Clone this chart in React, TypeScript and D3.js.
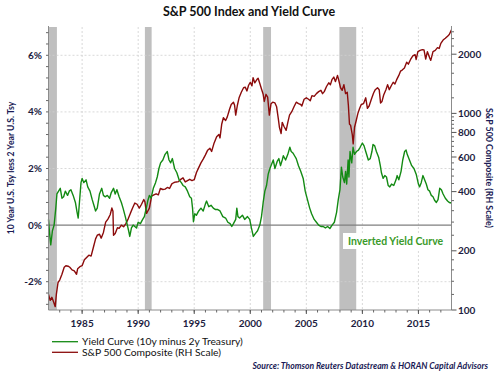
import React from "react";
import * as d3 from "d3";

// Yield curve (10y minus 2y), decimal year -> %
const curveYears = [
  1982.0, 1982.1, 1982.2, 1982.35, 1982.5, 1982.65, 1982.75, 1982.9, 1983.05, 1983.2, 1983.35, 1983.5, 1983.7, 1983.85,
  1984.0, 1984.2, 1984.4, 1984.55, 1984.65, 1984.8, 1984.9, 1985.0, 1985.15, 1985.35, 1985.5, 1985.7, 1985.9, 1986.05,
  1986.2, 1986.35, 1986.55, 1986.75, 1986.9, 1987.05, 1987.25, 1987.45, 1987.6, 1987.8, 1987.95, 1988.1, 1988.3, 1988.5,
  1988.65, 1988.85, 1989.0, 1989.15, 1989.25, 1989.4, 1989.55, 1989.7, 1989.85, 1990.0, 1990.2, 1990.4, 1990.55, 1990.7,
  1990.85, 1991.0, 1991.15, 1991.35, 1991.55, 1991.7, 1991.85, 1992.0, 1992.2, 1992.4, 1992.6, 1992.75, 1992.9, 1993.05,
  1993.25, 1993.45, 1993.65, 1993.85, 1994.0, 1994.2, 1994.4, 1994.6, 1994.75, 1994.85, 1994.93, 1995.05, 1995.2, 1995.4,
  1995.6, 1995.8, 1996.0, 1996.1, 1996.3, 1996.5, 1996.7, 1996.9, 1997.1, 1997.3, 1997.55, 1997.8, 1998.0, 1998.2,
  1998.35, 1998.5, 1998.7, 1998.8, 1998.9, 1999.05, 1999.3, 1999.5, 1999.75, 1999.95, 2000.1, 2000.27, 2000.45, 2000.65,
  2000.85, 2001.0, 2001.15, 2001.3, 2001.45, 2001.6, 2001.75, 2001.9, 2002.05, 2002.2, 2002.4, 2002.55, 2002.7, 2002.85,
  2002.95, 2003.15, 2003.35, 2003.53, 2003.65, 2003.8, 2003.95, 2004.1, 2004.3, 2004.5, 2004.72, 2004.9, 2005.1, 2005.3,
  2005.47, 2005.7, 2005.9, 2006.1, 2006.3, 2006.5, 2006.7, 2006.9, 2007.1, 2007.3, 2007.5, 2007.7, 2007.85, 2008.0,
  2008.13, 2008.25, 2008.4, 2008.5, 2008.6, 2008.73, 2008.8, 2008.9, 2009.05, 2009.17, 2009.3, 2009.47, 2009.65, 2009.8,
  2010.0, 2010.15, 2010.3, 2010.53, 2010.7, 2010.85, 2010.95, 2011.1, 2011.25, 2011.45, 2011.6, 2011.7, 2011.85, 2012.0,
  2012.15, 2012.3, 2012.45, 2012.6, 2012.8, 2013.0, 2013.1, 2013.25, 2013.45, 2013.6, 2013.77, 2013.9, 2014.0, 2014.2,
  2014.4, 2014.6, 2014.8, 2015.0, 2015.1, 2015.25, 2015.4, 2015.55, 2015.7, 2015.85, 2016.0, 2016.15, 2016.3, 2016.44,
  2016.6, 2016.75, 2016.9, 2017.05, 2017.2, 2017.4, 2017.6, 2017.75, 2017.95,
];
const curveValues = [
  0.2, -0.3, -0.7, -0.2, 0.0, 0.6, 1.1, 1.2, 1.3, 0.95, 1.0, 1.2, 1.05, 1.2,
  1.25, 1.05, 0.8, 0.45, 0.25, 1.0, 1.5, 1.65, 1.5, 1.6, 1.35, 1.2, 0.9, 0.7,
  0.5, 0.6, 1.1, 1.3, 1.05, 1.0, 1.05, 0.95, 1.15, 1.3, 1.1, 1.25, 1.0, 0.8,
  0.6, 0.3, 0.05, -0.2, -0.4, -0.1, 0.0, -0.05, -0.1, 0.1, 0.05, 0.2, 0.3, 0.55,
  0.85, 1.05, 0.95, 1.3, 1.5, 1.7, 2.0, 2.2, 2.3, 2.5, 2.6, 2.3, 2.2, 2.35,
  2.0, 1.85, 1.6, 1.5, 1.4, 1.35, 1.2, 1.0, 0.95, 0.6, 0.12, 0.4, 0.35, 0.5,
  0.6, 0.5, 0.75, 0.85, 0.65, 0.7, 0.6, 0.55, 0.55, 0.5, 0.3, 0.25, 0.1, 0.05,
  -0.05, 0.05, 0.2, 0.6, 0.3, 0.25, 0.35, 0.2, 0.3, 0.2, -0.1, -0.4, -0.3, -0.2,
  0.0, 0.3, 0.8, 1.2, 1.4, 1.8, 2.0, 2.15, 2.3, 2.0, 2.25, 2.35, 2.1, 2.3,
  2.45, 2.3, 2.5, 2.75, 2.6, 2.55, 2.45, 2.35, 2.1, 1.9, 1.65, 1.2, 0.9, 0.6,
  0.4, 0.2, 0.1, 0.0, -0.05, -0.05, -0.1, -0.05, -0.12, 0.0, 0.1, 0.45, 0.9, 1.25,
  2.05, 1.7, 1.5, 1.9, 1.45, 2.3, 1.7, 2.6, 2.2, 2.75, 2.5, 2.6, 2.65, 2.75,
  2.9, 2.8, 2.6, 2.3, 2.35, 2.6, 2.85, 2.8, 2.6, 2.4, 2.1, 1.85, 1.65, 1.75,
  1.7, 1.4, 1.35, 1.45, 1.4, 1.6, 1.75, 1.6, 1.9, 2.3, 2.6, 2.65, 2.5, 2.3,
  2.1, 2.0, 1.8, 1.45, 1.35, 1.5, 1.75, 1.6, 1.45, 1.25, 1.2, 1.05, 1.0, 0.88,
  0.8, 0.9, 1.3, 1.25, 1.1, 0.95, 0.85, 0.8, 0.78,
];

// S&P 500 Composite, decimal year -> index level
const spxYears = [
  1982.0, 1982.15, 1982.3, 1982.45, 1982.6, 1982.7, 1982.85, 1983.0, 1983.2, 1983.4, 1983.55, 1983.75, 1983.9, 1984.1,
  1984.3, 1984.5, 1984.6, 1984.8, 1985.0, 1985.2, 1985.4, 1985.6, 1985.8, 1986.0, 1986.2, 1986.35, 1986.55, 1986.7,
  1986.9, 1987.1, 1987.3, 1987.5, 1987.65, 1987.75, 1987.8, 1987.95, 1988.15, 1988.3, 1988.5, 1988.7, 1988.9, 1989.1,
  1989.3, 1989.5, 1989.7, 1989.9, 1990.1, 1990.3, 1990.5, 1990.6, 1990.75, 1990.85, 1991.0, 1991.2, 1991.4, 1991.6,
  1991.8, 1991.98, 1992.2, 1992.4, 1992.6, 1992.8, 1993.0, 1993.2, 1993.4, 1993.6, 1993.8, 1994.0, 1994.2, 1994.4,
  1994.6, 1994.8, 1995.0, 1995.2, 1995.4, 1995.6, 1995.8, 1996.0, 1996.2, 1996.4, 1996.55, 1996.75, 1997.0, 1997.2,
  1997.3, 1997.45, 1997.6, 1997.8, 1997.95, 1998.15, 1998.3, 1998.5, 1998.6, 1998.7, 1998.85, 1999.0, 1999.2, 1999.4,
  1999.55, 1999.7, 1999.85, 2000.0, 2000.15, 2000.25, 2000.4, 2000.6, 2000.7, 2000.85, 2001.0, 2001.15, 2001.25, 2001.4,
  2001.55, 2001.7, 2001.85, 2002.0, 2002.2, 2002.35, 2002.5, 2002.6, 2002.75, 2002.85, 2003.0, 2003.2, 2003.35, 2003.5,
  2003.7, 2003.9, 2004.1, 2004.3, 2004.5, 2004.6, 2004.8, 2005.0, 2005.2, 2005.35, 2005.5, 2005.7, 2005.9, 2006.1,
  2006.3, 2006.45, 2006.6, 2006.8, 2007.0, 2007.15, 2007.3, 2007.45, 2007.6, 2007.78, 2007.9, 2008.05, 2008.2, 2008.35,
  2008.5, 2008.65, 2008.75, 2008.85, 2008.95, 2009.1, 2009.18, 2009.3, 2009.45, 2009.6, 2009.75, 2009.9, 2010.1, 2010.3,
  2010.45, 2010.6, 2010.8, 2011.0, 2011.15, 2011.35, 2011.5, 2011.62, 2011.75, 2011.9, 2012.1, 2012.25, 2012.4, 2012.6,
  2012.75, 2012.9, 2013.05, 2013.25, 2013.4, 2013.55, 2013.75, 2013.95, 2014.1, 2014.3, 2014.5, 2014.7, 2014.8, 2014.95,
  2015.15, 2015.35, 2015.5, 2015.65, 2015.8, 2016.0, 2016.1, 2016.3, 2016.5, 2016.7, 2016.85, 2017.0, 2017.2, 2017.4,
  2017.6, 2017.75, 2017.95,
];
const spxValues = [
  120, 112, 116, 110, 104, 120, 138, 142, 152, 165, 168, 167, 165, 160,
  158, 152, 162, 166, 168, 180, 185, 190, 188, 208, 230, 240, 243, 232,
  248, 280, 290, 305, 330, 318, 240, 245, 262, 260, 270, 265, 275, 290,
  310, 330, 350, 345, 330, 345, 365, 355, 310, 318, 330, 380, 385, 390,
  385, 415, 410, 412, 420, 415, 438, 445, 448, 450, 462, 470, 448, 455,
  462, 455, 460, 500, 530, 560, 585, 615, 650, 665, 640, 700, 760, 780,
  750, 880, 950, 920, 960, 1050, 1110, 1140, 1100, 980, 1100, 1200, 1280, 1350,
  1360, 1300, 1390, 1440, 1380, 1520, 1430, 1490, 1510, 1420, 1330, 1250, 1150, 1250,
  1210, 980, 1120, 1140, 1130, 1080, 940, 850, 790, 900, 860, 820, 900, 980,
  1020, 1080, 1140, 1120, 1110, 1090, 1180, 1200, 1180, 1160, 1230, 1220, 1260, 1290,
  1310, 1260, 1290, 1370, 1430, 1400, 1490, 1530, 1450, 1560, 1470, 1350, 1310, 1400,
  1260, 1280, 1100, 880, 870, 780, 700, 850, 920, 1000, 1060, 1110, 1120, 1200,
  1060, 1090, 1180, 1270, 1320, 1350, 1320, 1130, 1150, 1240, 1320, 1400, 1320, 1390,
  1440, 1410, 1480, 1560, 1640, 1660, 1700, 1820, 1780, 1880, 1960, 1990, 1880, 2060,
  2090, 2110, 2100, 1890, 2060, 1920, 1860, 2060, 2090, 2160, 2140, 2270, 2360, 2410,
  2470, 2520, 2660,
];

// Recession bands [start, end]
const recessionStarts = [1982.0, 1990.6, 2001.15, 2007.95];
const recessionEnds = [1982.75, 1991.2, 2001.85, 2009.45];

const yearTicks = [1985, 1990, 1995, 2000, 2005, 2010, 2015];
const leftTicks = [-2, 0, 2, 4, 6];
const rightTicks = [100, 200, 400, 600, 800, 1000, 2000];

const W = 499;
const H = 374;
const left = 48.5;
const right = 451.5;
const top = 27;
const bottom = 310;

const navy = "#1d1d3f";
const green = "#138a13";
const red = "#8b0b0b";
const font = "Lato, 'Open Sans', sans-serif";

export default function App() {
  const x = d3.scaleLinear().domain([1982.0, 2017.95]).range([left, right]);
  const yL = d3.scaleLinear().domain([-3, 7]).range([bottom, top]);
  const yR = d3.scaleLog().domain([100, 2750]).range([bottom, top]);

  const curve = curveYears.map((t, i) => [t, curveValues[i]] as [number, number]);
  const spx = spxYears.map((t, i) => [t, spxValues[i]] as [number, number]);

  const curveLine = d3
    .line<[number, number]>()
    .x((d) => x(d[0]))
    .y((d) => yL(d[1]));
  const spxLine = d3
    .line<[number, number]>()
    .x((d) => x(d[0]))
    .y((d) => yR(d[1]));

  const minorYears = d3.range(1983, 2018);
  const leftMinor = d3.range(-2.8, 7, 0.4);
  const rightMinor: number[] = [];
  const rMajors = [...rightTicks, 3000];
  for (let i = 0; i < rMajors.length - 1; i++) {
    const a = rMajors[i];
    const b = rMajors[i + 1];
    for (let k = 1; k < 5; k++) {
      const v = a + ((b - a) * k) / 5;
      if (v <= 2750) rightMinor.push(v);
    }
  }

  return (
    <svg
      width={W}
      height={H}
      style={{ position: "absolute", left: 0, top: 0, background: "#fff" }}
      fontFamily={font}
    >
      <text x={249} y={15.5} textAnchor="middle" fontSize={12.5} fontWeight="bold" fill="#111">
        S&amp;P 500 Index and Yield Curve
      </text>

      {/* recession shading */}
      {recessionStarts.map((s, i) => (
        <rect
          key={"r" + i}
          x={x(s)}
          y={top}
          width={x(recessionEnds[i]) - x(s)}
          height={bottom - top}
          fill="#bfbfbf"
        />
      ))}

      {/* gridlines */}
      {leftTicks
        .filter((v) => v !== 0)
        .map((v) => (
          <line key={"gh" + v} x1={left} x2={right} y1={yL(v)} y2={yL(v)} stroke="#cfcfcf" strokeWidth={0.8} strokeDasharray="2,2" />
        ))}
      {yearTicks.map((t) => (
        <line key={"gv" + t} x1={x(t)} x2={x(t)} y1={top} y2={bottom} stroke="#cfcfcf" strokeWidth={0.8} strokeDasharray="2,2" />
      ))}

      {/* zero line */}
      <line x1={left} x2={right} y1={yL(0)} y2={yL(0)} stroke="#7f7f7f" strokeWidth={1.2} />

      {/* series */}
      <path d={spxLine(spx) || ""} fill="none" stroke={red} strokeWidth={1.4} strokeLinejoin="round" />
      <path d={curveLine(curve) || ""} fill="none" stroke={green} strokeWidth={1.4} strokeLinejoin="round" />

      {/* axes lines */}
      <line x1={left} x2={left} y1={top - 1} y2={bottom} stroke="#8c8c8c" />
      <line x1={right} x2={right} y1={top - 1} y2={bottom} stroke="#8c8c8c" />
      <line x1={left} x2={right} y1={bottom} y2={bottom} stroke="#8c8c8c" />

      {/* left ticks */}
      {leftMinor.map((v) => (
        <line key={"lm" + v} x1={left - 2.5} x2={left} y1={yL(v)} y2={yL(v)} stroke="#666" />
      ))}
      {leftTicks.map((v) => (
        <text key={"lt" + v} x={42} y={yL(v)} dy="0.35em" textAnchor="end" fontSize={10} fontWeight="bold" fill={navy}>
          {v + "%"}
        </text>
      ))}

      {/* right ticks */}
      {rightMinor.map((v) => (
        <line key={"rm" + v} x1={right} x2={right + 2.5} y1={yR(v)} y2={yR(v)} stroke="#666" />
      ))}
      {rightTicks.map((v) => (
        <g key={"rt" + v}>
          <line x1={right} x2={right + 5} y1={yR(v)} y2={yR(v)} stroke="#555" />
          <text x={458} y={yR(v)} dy="0.35em" fontSize={10} fontWeight="bold" fill={navy}>
            {v}
          </text>
        </g>
      ))}

      {/* bottom ticks */}
      {minorYears.map((t) => (
        <line key={"bm" + t} x1={x(t)} x2={x(t)} y1={bottom} y2={bottom + 2.5} stroke="#666" />
      ))}
      {yearTicks.map((t) => (
        <g key={"bt" + t}>
          <line x1={x(t)} x2={x(t)} y1={bottom} y2={bottom + 4} stroke="#555" />
          <text x={x(t)} y={326.5} textAnchor="middle" fontSize={10} fontWeight="bold" fill={navy}>
            {t}
          </text>
        </g>
      ))}

      {/* axis titles */}
      <text
        transform={`translate(14, 168) rotate(-90)`}
        textAnchor="middle"
        fontSize={8.6}
        fontWeight="bold"
        fill="#1a1a55"
      >
        10 Year U.S. Tsy less 2 Year U.S. Tsy
      </text>
      <text
        transform={`translate(486, 168) rotate(90)`}
        textAnchor="middle"
        fontSize={8.8}
        fontWeight="bold"
        fill="#1a1a55"
      >
        S&amp;P 500 Composite (RH Scale)
      </text>

      {/* annotation */}
      <rect x={343} y={233} width={102} height={16} fill="#fff" />
      <text x={348} y={245} fontSize={10.5} fontWeight="bold" fill="#3a9a2a">
        Inverted Yield Curve
      </text>

      {/* legend */}
      <line x1={52} x2={78} y1={341.7} y2={341.7} stroke={green} strokeWidth={1.3} />
      <text x={82} y={341.7} dy="0.35em" fontSize={10.3} fill="#111">
        Yield Curve (10y minus 2y Treasury)
      </text>
      <line x1={52} x2={78} y1={352.3} y2={352.3} stroke={red} strokeWidth={1.3} />
      <text x={82} y={352.3} dy="0.35em" fontSize={10.3} fill="#111">
        S&amp;P 500 Composite (RH Scale)
      </text>

      <text x={488} y={369} textAnchor="end" fontSize={8.6} fontWeight="bold" fontStyle="italic" fill="#1a1a55">
        Source: Thomson Reuters Datastream &amp; HORAN Capital Advisors
      </text>
    </svg>
  );
}
